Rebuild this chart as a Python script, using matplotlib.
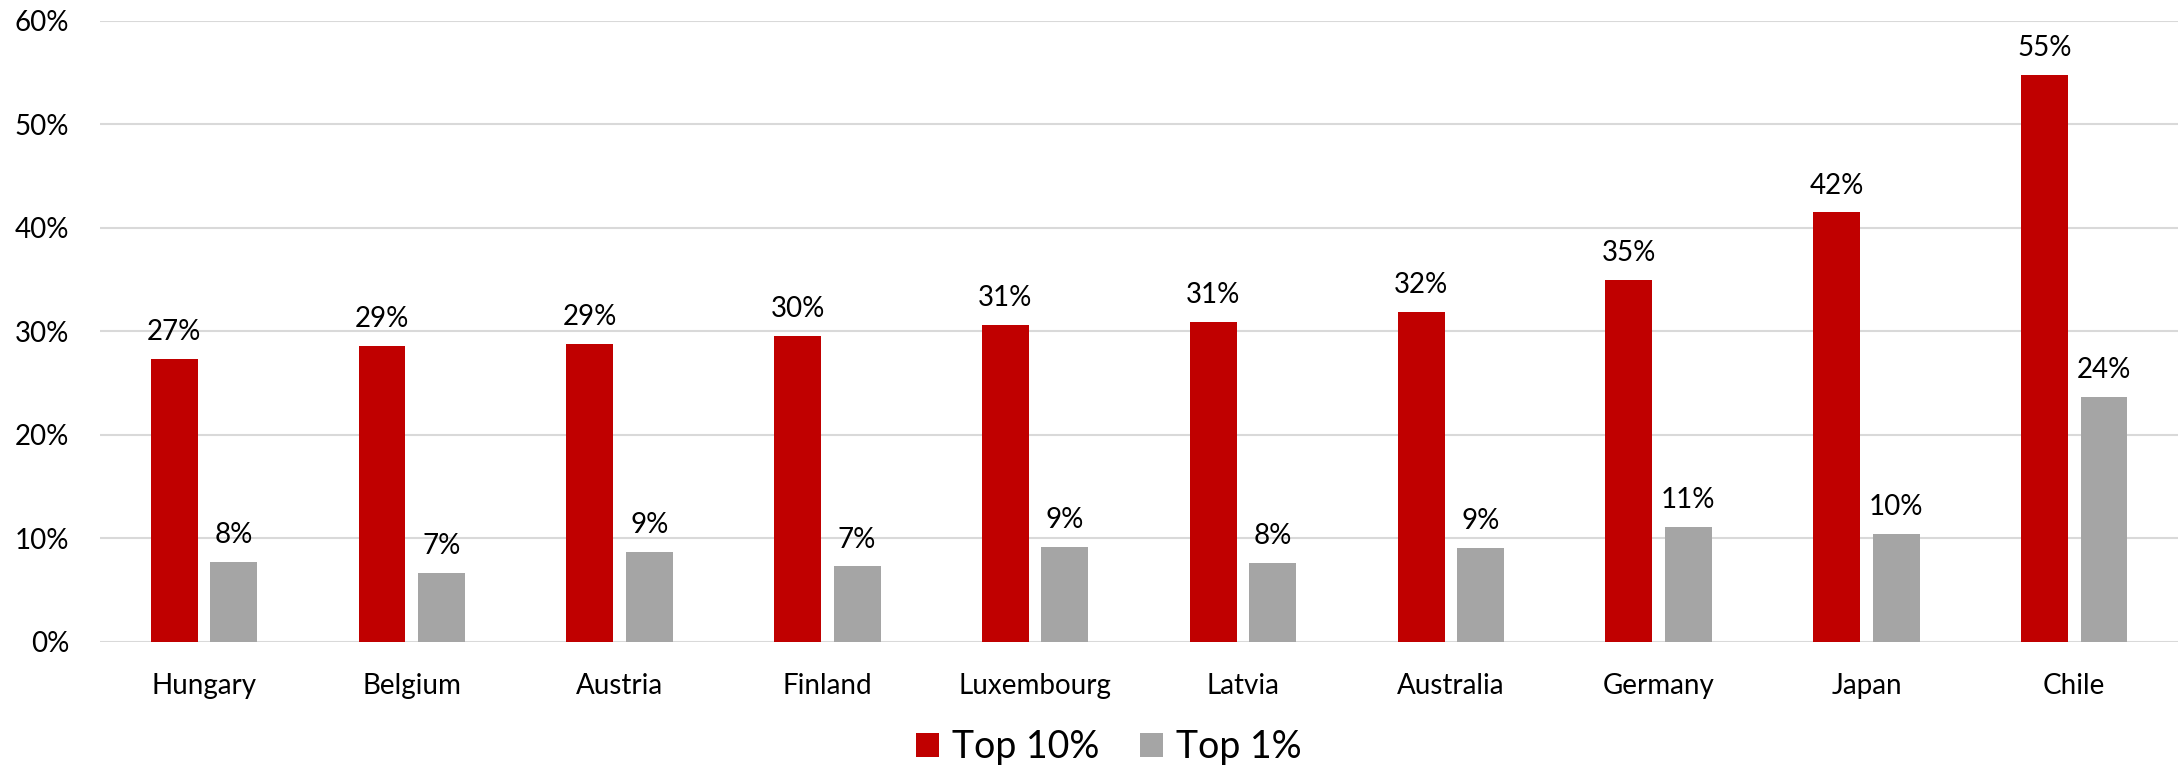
import numpy as np
import matplotlib
matplotlib.use("Agg")
import matplotlib.pyplot as plt
from matplotlib.ticker import PercentFormatter

# Data
countries = ["Hungary", "Belgium", "Austria", "Finland", "Luxembourg",
             "Latvia", "Australia", "Germany", "Japan", "Chile"]
top10 = [27.35, 28.6, 28.8, 29.6, 30.6, 30.9, 31.9, 35.0, 41.5, 54.8]
top1 = [7.7, 6.7, 8.7, 7.3, 9.2, 7.6, 9.1, 11.1, 10.4, 23.7]
top10_labels = ["27%", "29%", "29%", "30%", "31%", "31%", "32%", "35%", "42%", "55%"]
top1_labels = ["8%", "7%", "9%", "7%", "9%", "8%", "9%", "11%", "10%", "24%"]

plt.rcParams["font.family"] = ["Lato", "DejaVu Sans"]

fig = plt.figure(figsize=(21.83, 7.72), dpi=100)
ax = fig.add_axes([0.0458, 0.1684, 0.952, 0.8044])

x = np.arange(len(countries))
w = 0.226
off = 0.143

b1 = ax.bar(x - off, top10, w, color="#C00000", label="Top 10%", zorder=3)
b2 = ax.bar(x + off, top1, w, color="#A5A5A5", label="Top 1%", zorder=3)

for bars, labels in [(b1, top10_labels), (b2, top1_labels)]:
    for bar, lab in zip(bars, labels):
        ax.annotate(lab, (bar.get_x() + bar.get_width() / 2, bar.get_height()),
                    xytext=(0, 10), textcoords="offset points",
                    ha="center", va="bottom", fontsize=20)

ax.set_xlim(-0.5, len(countries) - 0.5)
ax.set_ylim(0, 60)
ax.set_yticks(np.arange(0, 61, 10))
ax.yaxis.set_major_formatter(PercentFormatter(decimals=0))
ax.set_xticks(x)
ax.set_xticklabels(countries)
ax.tick_params(axis="both", length=0, labelsize=20)
ax.tick_params(axis="y", pad=22)
ax.tick_params(axis="x", pad=22)

ax.grid(axis="y", color="#D9D9D9", linewidth=1.5, zorder=0)
for s in ax.spines.values():
    s.set_visible(False)

fig.legend(loc="lower center", bbox_to_anchor=(0.508, -0.035), ncol=2,
           frameon=False, fontsize=27, handlelength=0.6, handleheight=0.6,
           handletextpad=0.35, columnspacing=1.1)

fig.savefig("out.png", dpi=100)
